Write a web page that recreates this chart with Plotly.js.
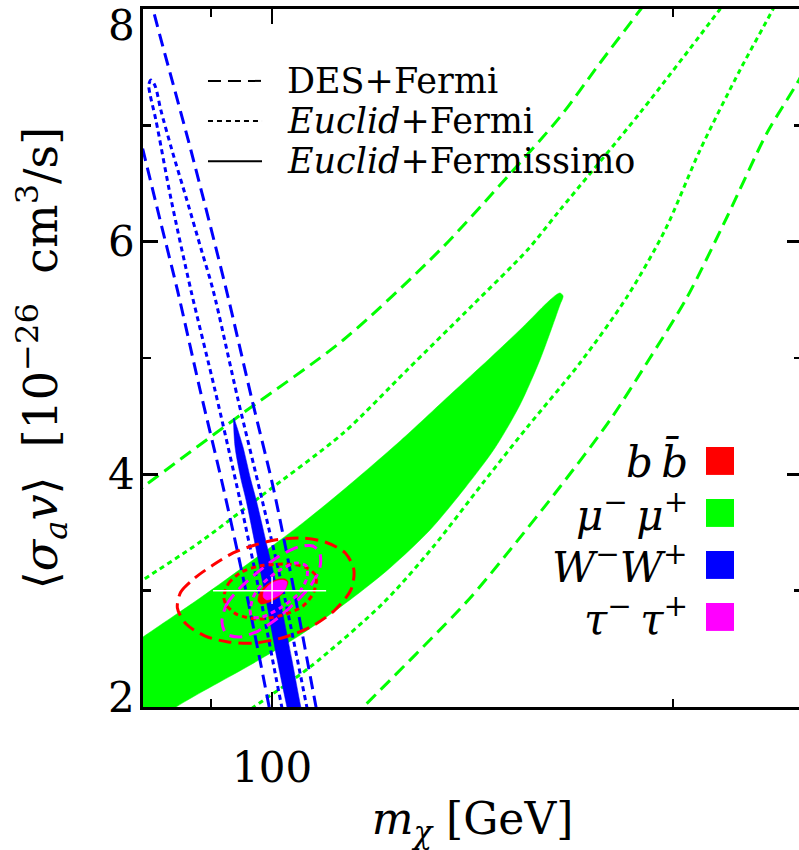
<!DOCTYPE html>
<html>
<head>
<meta charset="utf-8">
<script src="https://cdn.plot.ly/plotly-3.0.1.min.js"></script>
<style>
  html, body { margin: 0; padding: 0; overflow: hidden; background: #ffffff; }
  #chart { width: 812px; height: 850px; }
</style>
</head>
<body>
<div id="chart"></div>
<script>
// Forecast constraints on dark-matter mass m_chi [GeV] and <sigma_a v> [1e-26 cm^3/s]
// for four annihilation channels and three survey combinations.

// ---- mu- mu+ ----
// Euclid+Fermissimo region (filled): upper edge left->right, then lower edge right->left
const mumuFms_m  = [74.3, 80.0, 88.3, 96.3, 105.0, 113.1, 124.8, 136.0, 145.8, 154.3, 160.8, 163.4, 164.5,
                    165.4, 164.5, 162.5, 158.9, 153.5, 147.0, 139.6, 131.4, 122.6, 114.4, 105.0, 96.3, 84.7, 74.3];
const mumuFms_sv = [2.344, 2.602, 2.937, 3.246, 3.565, 3.865, 4.287, 4.682, 5.000, 5.267, 5.473, 5.542, 5.559,
                    5.533, 5.456, 5.284, 4.983, 4.596, 4.226, 3.883, 3.522, 3.195, 2.920, 2.619, 2.361, 2.000, 1.544];
// DES+Fermi contour (upper and lower branches)
const mumuDesUp_m  = [74.3, 80.0, 95.1, 113.1, 133.7, 148.3, 164.5, 176.3, 189.2, 202.5];
const mumuDesUp_sv = [3.616, 3.891, 4.527, 5.155, 5.928, 6.487, 7.072, 7.536, 8.000, 8.464];
const mumuDesLo_m  = [106.8, 117.1, 140.4, 150.9, 164.5, 179.4, 192.2, 205.0, 219.6, 235.3, 248.7, 262.4];
const mumuDesLo_sv = [1.544, 2.000, 2.920, 3.350, 3.891, 4.467, 5.000, 5.524, 6.212, 6.934, 7.390, 7.906];
// Euclid+Fermi contour (upper and lower branches)
const mumuEucUp_m  = [74.3, 80.0, 88.3, 97.9, 113.1, 126.3, 141.5, 155.5, 164.5, 188.9, 217.0, 232.5];
const mumuEucUp_sv = [2.842, 3.092, 3.418, 3.805, 4.355, 4.897, 5.456, 5.928, 6.272, 7.106, 8.000, 8.464];
const mumuEucLo_m  = [88.3, 96.9, 106.8, 121.2, 132.1, 144.0, 155.5, 170.3, 184.7, 197.3, 209.6, 224.6, 237.8, 249.1];
const mumuEucLo_sv = [1.673, 2.000, 2.344, 2.894, 3.375, 3.926, 4.407, 4.957, 5.524, 6.100, 6.788, 7.476, 8.000, 8.464];

// ---- W- W+ ----
// DES+Fermi contour: right branch, gap, left branch
const wwDes_m  = [81.0, 81.4, 86.9, 92.4, 96.6, 100.3, 104.2, 107.9, 110.2, null,
                  78.0, 80.0, 82.4, 84.9, 88.3, 92.0, 95.9, 99.5, 101.6];
const wwDes_sv = [8.121, 8.000, 6.788, 5.585, 4.639, 3.865, 2.920, 2.000, 1.458, null,
                  7.304, 6.788, 6.186, 5.585, 4.725, 3.865, 2.920, 2.000, 1.458];
// Euclid+Fermi contour
const wwEuc_m  = [104.1, 101.7, 98.1, 94.6, 90.6, 86.9, 84.0, 81.8, 81.0, 80.8, 81.1, 81.7, 82.5,
                  84.1, 86.3, 88.5, 90.3, 94.3, 98.3, 102.3, 106.2, 108.6];
const wwEuc_sv = [1.458, 2.000, 2.920, 3.779, 4.725, 5.585, 6.358, 7.046, 7.261, 7.347, 7.390, 7.338, 7.132,
                  6.788, 6.358, 5.928, 5.585, 4.639, 3.779, 2.920, 2.000, 1.458];
// Euclid+Fermissimo region (filled)
const wwFms_m  = [93.6, 93.8, 94.8, 95.6, 97.3, 98.8, 100.9, 102.6, 104.6,
                  107.2, 105.1, 103.5, 101.2, 99.3, 97.3, 96.4, 95.1, 94.0, 93.6];
const wwFms_sv = [4.484, 4.235, 3.951, 3.779, 3.350, 2.963, 2.404, 2.000, 1.544,
                  1.544, 2.000, 2.404, 2.963, 3.350, 3.779, 3.951, 4.235, 4.424, 4.484];

// ---- b b-bar ----
const bbDes_m  = [84.9, 85.4, 87.5, 90.3, 93.5, 97.1, 100.5, 105.0, 109.6, 113.5, 115.2, 114.6, 111.5,
                  107.2, 102.3, 97.1, 92.7, 89.1, 86.2, 84.9];
const bbDes_sv = [2.851, 2.989, 3.109, 3.221, 3.324, 3.393, 3.436, 3.453, 3.418, 3.324, 3.178, 3.006, 2.834,
                  2.696, 2.602, 2.550, 2.559, 2.610, 2.713, 2.851];
const bbEuc_m  = [92.0, 92.8, 94.9, 97.9, 102.3, 105.9, 107.9, 107.5, 105.5, 101.9, 97.6, 94.0, 92.4, 92.0];
const bbEuc_sv = [2.946, 3.066, 3.161, 3.212, 3.229, 3.203, 3.126, 2.989, 2.868, 2.791, 2.756, 2.799, 2.877, 2.946];
const bbFms_m  = [97.6, 97.8, 98.6, 99.8, 101.2, 102.3, 102.8, 102.4, 101.6, 100.3, 99.1, 98.1, 97.6];
const bbFms_sv = [2.911, 2.971, 3.032, 3.075, 3.100, 3.100, 3.075, 3.023, 2.963, 2.920, 2.894, 2.885, 2.911];

// ---- tau- tau+ ----
const ttDes_m  = [91.7, 92.4, 94.6, 97.6, 101.0, 104.6, 107.3, 108.6, 108.6, 107.0, 104.2, 101.0, 97.6, 94.6, 92.4, 91.7];
const ttDes_sv = [2.731, 2.877, 3.023, 3.161, 3.289, 3.375, 3.384, 3.324, 3.195, 3.049, 2.903, 2.765, 2.653, 2.602, 2.628, 2.731];
const ttEuc_m  = [96.3, 96.8, 98.5, 101.4, 104.2, 106.1, 106.2, 104.6, 101.4, 98.3, 96.6, 96.3];
const ttEuc_sv = [2.817, 2.946, 3.066, 3.178, 3.238, 3.212, 3.109, 2.971, 2.851, 2.774, 2.774, 2.817];
const ttFms_m  = [98.5, 98.6, 99.5, 100.7, 101.9, 102.6, 102.4, 101.6, 100.3, 99.1, 98.5];
const ttFms_sv = [2.946, 2.997, 3.049, 3.083, 3.092, 3.075, 3.023, 2.971, 2.937, 2.920, 2.946];

// fiducial model marker (m_chi = 100 GeV, <sigma v> = 3)
const fidMass = 100, fidSigma = 3;
const crossM  = [90.3, 109.8];
const crossSv = [2.885, 3.118];

// axis ticks
const xMajor = [100], xMinor = [90, 200];
const yMajor = [2, 4, 6, 8], yMinor = [3, 5, 7];

// legends
const surveyLabels = ['DES+Fermi', '<i>Euclid</i>+Fermi', '<i>Euclid</i>+Fermissimo'];
const surveyDash   = ['13px,7px', '5px,4px', 'solid'];
const channelLabels = ['<i>b</i>\u2009<i>b\u0304</i>', '<i>\u03bc</i><sup>\u2212</sup>\u2009<i>\u03bc</i><sup>+</sup>',
                       '<i>W</i><sup>\u2212</sup><i>W</i><sup>+</sup>', '<i>\u03c4</i><sup>\u2212</sup>\u2009<i>\u03c4</i><sup>+</sup>'];
const channelColors = ['#ff0000', '#00ff00', '#0000ff', '#ff00ff'];

const DASH = '13px,7px', DOT = '5px,4px', LW = 3;

function curve(x, y, color, dash) {
  return { type: 'scatter', mode: 'lines', x: x, y: y, hoverinfo: 'skip', showlegend: false,
           connectgaps: false, line: { color: color, width: LW, dash: dash, shape: 'spline', smoothing: 0.8 } };
}
function region(x, y, color) {
  return { type: 'scatter', mode: 'lines', x: x, y: y, fill: 'toself', fillcolor: color,
           hoverinfo: 'skip', showlegend: false, line: { color: color, width: 0.5, shape: 'spline', smoothing: 0.8 } };
}

const traces = [
  region(mumuFms_m, mumuFms_sv, '#00ff00'),
  curve(mumuDesUp_m, mumuDesUp_sv, '#00ff00', DASH),
  curve(mumuDesLo_m, mumuDesLo_sv, '#00ff00', DASH),
  curve(mumuEucUp_m, mumuEucUp_sv, '#00ff00', DOT),
  curve(mumuEucLo_m, mumuEucLo_sv, '#00ff00', DOT),
  curve(wwDes_m, wwDes_sv, '#0000ff', DASH),
  curve(wwEuc_m, wwEuc_sv, '#0000ff', DOT),
  region(wwFms_m, wwFms_sv, '#0000ff'),
  curve(bbDes_m, bbDes_sv, '#ff0000', DASH),
  curve(ttDes_m, ttDes_sv, '#ff00ff', DASH),
  curve(bbEuc_m, bbEuc_sv, '#ff0000', DOT),
  curve(ttEuc_m, ttEuc_sv, '#ff00ff', DOT),
  region(bbFms_m, bbFms_sv, '#ff0000'),
  region(ttFms_m, ttFms_sv, '#ff00ff'),
  { type: 'scatter', mode: 'lines', x: crossM, y: [fidSigma, fidSigma], hoverinfo: 'skip', showlegend: false,
    line: { color: '#ffffff', width: 1.5 } },
  { type: 'scatter', mode: 'lines', x: [fidMass, fidMass], y: crossSv, hoverinfo: 'skip', showlegend: false,
    line: { color: '#ffffff', width: 1.5 } }
];

const SERIF = 'DejaVu Serif';
const shapes = [], annotations = [];

// y tick labels, the end ones pulled inside the frame
yMajor.forEach(v => {
  annotations.push({ xref: 'paper', yref: 'y', x: -0.009, y: v, xanchor: 'right', yanchor: 'middle',
                     yshift: v === 8 ? -16 : (v === 2 ? 10 : 0), showarrow: false, text: String(v),
                     font: { family: SERIF, size: 42, color: '#000000' } });
});

// survey line-style key (top left)
const keyY = [0.897, 0.8395, 0.782];
surveyLabels.forEach((lab, i) => {
  shapes.push({ type: 'line', xref: 'paper', yref: 'paper', x0: 0.0986, x1: 0.1806, y0: keyY[i], y1: keyY[i],
                line: { color: '#000000', width: 2, dash: surveyDash[i] } });
  annotations.push({ xref: 'paper', yref: 'paper', x: 0.2155, y: keyY[i], xanchor: 'left', yanchor: 'middle',
                     showarrow: false, text: lab, font: { family: SERIF, size: 35, color: '#000000' } });
});

// channel colour key (right)
const chanY = [0.3525, 0.278, 0.2035, 0.129];
channelLabels.forEach((lab, i) => {
  shapes.push({ type: 'rect', xref: 'paper', yref: 'paper', x0: 0.8543, x1: 0.8968,
                y0: chanY[i] - 0.02, y1: chanY[i] + 0.02, line: { width: 0 }, fillcolor: channelColors[i] });
  annotations.push({ xref: 'paper', yref: 'paper', x: 0.830, y: chanY[i], xanchor: 'right', yanchor: 'middle',
                     showarrow: false, text: lab, font: { family: SERIF, size: 42, color: '#000000' } });
});

const axisCommon = {
  showgrid: false, zeroline: false, showline: true, linecolor: '#000000', linewidth: 3,
  mirror: 'ticks', ticks: 'inside', ticklen: 15, tickwidth: 2.5, tickcolor: '#000000',
  tickfont: { family: SERIF, size: 42, color: '#000000' }
};

const layout = {
  width: 812, height: 850,
  margin: { l: 143, r: 10, t: 9, b: 143 },
  paper_bgcolor: '#ffffff', plot_bgcolor: '#ffffff',
  showlegend: false,
  xaxis: Object.assign({}, axisCommon, {
    type: 'log', range: [Math.log10(80), Math.log10(250)],
    tickmode: 'array', tickvals: xMajor, ticktext: xMajor.map(String),
    ticklabelstandoff: 22,
    minor: { tickmode: 'array', tickvals: xMinor, ticks: 'inside', ticklen: 8, tickwidth: 2.5, tickcolor: '#000000', showgrid: false },
    title: { text: '<i>m</i><sub><i>\u03c7</i></sub> [GeV]', font: { family: SERIF, size: 44, color: '#000000' }, standoff: 14 }
  }),
  yaxis: Object.assign({}, axisCommon, {
    range: [2, 8],
    tickmode: 'array', tickvals: yMajor, showticklabels: false,
    minor: { tickmode: 'array', tickvals: yMinor, ticks: 'inside', ticklen: 8, tickwidth: 2.5, tickcolor: '#000000', showgrid: false },
    title: { text: '\u27e8<i>\u03c3</i><sub><i>a</i></sub><i>v</i>\u27e9  [10<sup>\u221226</sup>  cm<sup>3</sup>/s]',
             font: { family: SERIF, size: 46, color: '#000000' }, standoff: 68 }
  }),
  shapes: shapes,
  annotations: annotations
};

Plotly.newPlot('chart', traces, layout, { staticPlot: true, displayModeBar: false });
</script>
</body>
</html>
